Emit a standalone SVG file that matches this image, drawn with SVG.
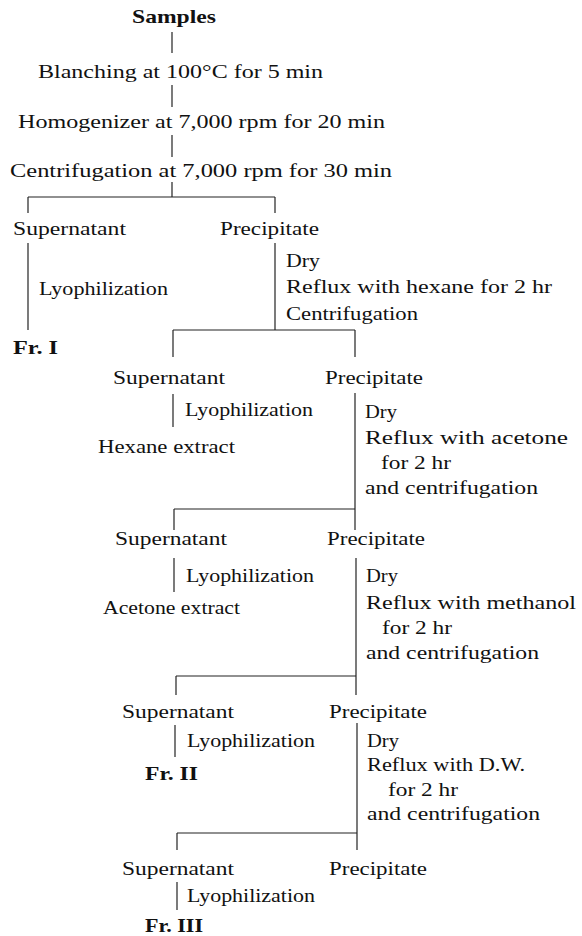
<svg xmlns="http://www.w3.org/2000/svg" width="582" height="936" viewBox="0 0 582 936">
<style>
text{font-family:"Liberation Serif","Times New Roman",serif;font-size:19px;fill:#111}
.b{font-weight:bold}
.c line{stroke:#222;stroke-width:1.2}
</style>
<rect width="582" height="936" fill="#fff"/>
<g id="connectors" class="c">
<line x1="172" y1="32" x2="172" y2="53"/>
<line x1="172" y1="85" x2="172" y2="107"/>
<line x1="172" y1="135" x2="172" y2="157"/>
<line x1="172" y1="182" x2="172" y2="197"/>
<line x1="28" y1="197" x2="275" y2="197"/>
<line x1="28" y1="197" x2="28" y2="213"/>
<line x1="275" y1="197" x2="275" y2="213"/>
<line x1="28" y1="243" x2="28" y2="330"/>
<line x1="275" y1="243" x2="275" y2="330"/>
<line x1="173" y1="330" x2="355" y2="330"/>
<line x1="173" y1="330" x2="173" y2="357"/>
<line x1="355" y1="330" x2="355" y2="357"/>
<line x1="173" y1="394" x2="173" y2="427"/>
<line x1="355" y1="393" x2="355" y2="530"/>
<line x1="174" y1="509" x2="355" y2="509"/>
<line x1="174" y1="509" x2="174" y2="530"/>
<line x1="174" y1="558" x2="174" y2="592"/>
<line x1="356" y1="558" x2="356" y2="695"/>
<line x1="176" y1="676" x2="356" y2="676"/>
<line x1="176" y1="676" x2="176" y2="695"/>
<line x1="175" y1="725" x2="175" y2="757"/>
<line x1="357" y1="723" x2="357" y2="850"/>
<line x1="177" y1="833" x2="357" y2="833"/>
<line x1="177" y1="833" x2="177" y2="850"/>
<line x1="177" y1="882" x2="177" y2="910"/>
</g>
<g id="samples"><text class="b" x="132" y="23" font-size="20" textLength="84" lengthAdjust="spacingAndGlyphs">Samples</text></g>
<g id="blanching"><text x="38" y="78" textLength="285" lengthAdjust="spacingAndGlyphs">Blanching at 100°C for 5 min</text></g>
<g id="homogenizer"><text x="18" y="128" textLength="367" lengthAdjust="spacingAndGlyphs">Homogenizer at 7,000 rpm for 20 min</text></g>
<g id="centrifugation1"><text x="10" y="177" textLength="382" lengthAdjust="spacingAndGlyphs">Centrifugation at 7,000 rpm for 30 min</text></g>
<g id="sup1"><text x="13" y="235" textLength="113" lengthAdjust="spacingAndGlyphs">Supernatant</text></g>
<g id="pre1"><text x="220" y="235" textLength="99" lengthAdjust="spacingAndGlyphs">Precipitate</text></g>
<g id="lyo1"><text x="39" y="295" textLength="129" lengthAdjust="spacingAndGlyphs">Lyophilization</text></g>
<g id="fr1"><text class="b" x="13" y="354" textLength="45" lengthAdjust="spacingAndGlyphs">Fr. I</text></g>
<g id="step1">
<text x="286" y="267" textLength="34" lengthAdjust="spacingAndGlyphs">Dry</text>
<text x="286" y="293" textLength="266" lengthAdjust="spacingAndGlyphs">Reflux with hexane for 2 hr</text>
<text x="286" y="320" textLength="132" lengthAdjust="spacingAndGlyphs">Centrifugation</text>
</g>
<g id="sup2"><text x="113" y="384" textLength="112" lengthAdjust="spacingAndGlyphs">Supernatant</text></g>
<g id="pre2"><text x="325" y="384" textLength="98" lengthAdjust="spacingAndGlyphs">Precipitate</text></g>
<g id="lyo2"><text x="185" y="416" textLength="128" lengthAdjust="spacingAndGlyphs">Lyophilization</text></g>
<g id="hexane"><text x="98" y="453" textLength="137" lengthAdjust="spacingAndGlyphs">Hexane extract</text></g>
<g id="step2">
<text x="365" y="418" textLength="32" lengthAdjust="spacingAndGlyphs">Dry</text>
<text x="365" y="444" textLength="203" lengthAdjust="spacingAndGlyphs">Reflux with acetone</text>
<text x="381" y="469" textLength="70" lengthAdjust="spacingAndGlyphs">for 2 hr</text>
<text x="365" y="494" textLength="173" lengthAdjust="spacingAndGlyphs">and centrifugation</text>
</g>
<g id="sup3"><text x="115" y="545" textLength="112" lengthAdjust="spacingAndGlyphs">Supernatant</text></g>
<g id="pre3"><text x="327" y="545" textLength="98" lengthAdjust="spacingAndGlyphs">Precipitate</text></g>
<g id="lyo3"><text x="186" y="582" textLength="128" lengthAdjust="spacingAndGlyphs">Lyophilization</text></g>
<g id="acetone"><text x="103" y="614" textLength="137" lengthAdjust="spacingAndGlyphs">Acetone extract</text></g>
<g id="step3">
<text x="366" y="582" textLength="32" lengthAdjust="spacingAndGlyphs">Dry</text>
<text x="366" y="609" textLength="210" lengthAdjust="spacingAndGlyphs">Reflux with methanol</text>
<text x="382" y="634" textLength="70" lengthAdjust="spacingAndGlyphs">for 2 hr</text>
<text x="366" y="659" textLength="173" lengthAdjust="spacingAndGlyphs">and centrifugation</text>
</g>
<g id="sup4"><text x="122" y="718" textLength="112" lengthAdjust="spacingAndGlyphs">Supernatant</text></g>
<g id="pre4"><text x="329" y="718" textLength="98" lengthAdjust="spacingAndGlyphs">Precipitate</text></g>
<g id="lyo4"><text x="187" y="747" textLength="128" lengthAdjust="spacingAndGlyphs">Lyophilization</text></g>
<g id="fr2"><text class="b" x="145" y="780" textLength="53" lengthAdjust="spacingAndGlyphs">Fr. II</text></g>
<g id="step4">
<text x="367" y="747" textLength="32" lengthAdjust="spacingAndGlyphs">Dry</text>
<text x="367" y="771" textLength="158" lengthAdjust="spacingAndGlyphs">Reflux with D.W.</text>
<text x="388" y="796" textLength="70" lengthAdjust="spacingAndGlyphs">for 2 hr</text>
<text x="367" y="820" textLength="173" lengthAdjust="spacingAndGlyphs">and centrifugation</text>
</g>
<g id="sup5"><text x="122" y="875" textLength="112" lengthAdjust="spacingAndGlyphs">Supernatant</text></g>
<g id="pre5"><text x="329" y="875" textLength="98" lengthAdjust="spacingAndGlyphs">Precipitate</text></g>
<g id="lyo5"><text x="187" y="902" textLength="128" lengthAdjust="spacingAndGlyphs">Lyophilization</text></g>
<g id="fr3"><text class="b" x="145" y="932" textLength="58" lengthAdjust="spacingAndGlyphs">Fr. III</text></g>
</svg>
